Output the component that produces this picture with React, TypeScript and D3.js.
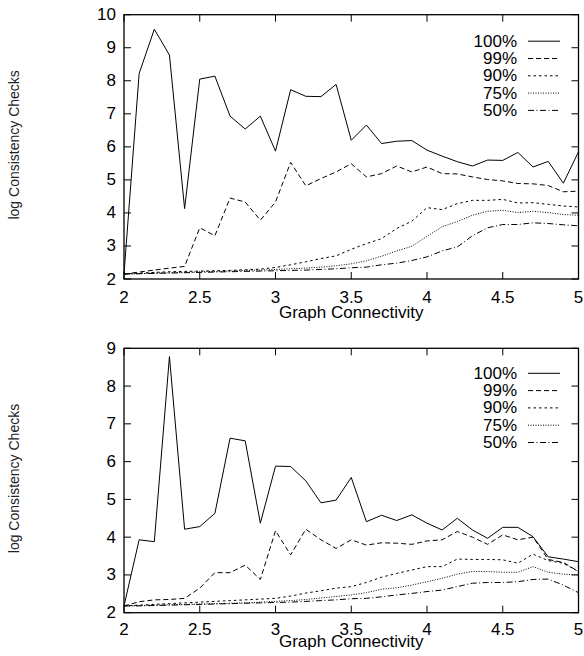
import React from "react";
import * as d3 from "d3";

// x grid (graph connectivity)
const connectivity = [
  2.0, 2.1, 2.2, 2.3, 2.4, 2.5, 2.6, 2.7, 2.8, 2.9, 3.0, 3.1, 3.2, 3.3, 3.4,
  3.5, 3.6, 3.7, 3.8, 3.9, 4.0, 4.1, 4.2, 4.3, 4.4, 4.5, 4.6, 4.7, 4.8, 4.9, 5.0,
];

const seriesNames = ["100%", "99%", "90%", "75%", "50%"];
const xTicks = [2, 2.5, 3, 3.5, 4, 4.5, 5];

// top panel
const top100 = [2.15, 8.22, 9.56, 8.78, 4.13, 8.05, 8.14, 6.93, 6.54, 6.93, 5.87, 7.73, 7.53, 7.52, 7.89, 6.2, 6.66, 6.1, 6.17, 6.19, 5.9, 5.72, 5.55, 5.42, 5.6, 5.59, 5.83, 5.39, 5.56, 4.9, 5.85];
const top99 = [2.15, 2.21, 2.27, 2.33, 2.38, 3.55, 3.31, 4.45, 4.33, 3.78, 4.33, 5.53, 4.82, 5.04, 5.24, 5.49, 5.09, 5.19, 5.42, 5.24, 5.39, 5.19, 5.18, 5.09, 5.01, 4.97, 4.89, 4.88, 4.83, 4.64, 4.66];
const top90 = [2.15, 2.18, 2.2, 2.22, 2.23, 2.24, 2.25, 2.26, 2.28, 2.3, 2.35, 2.43, 2.52, 2.62, 2.7, 2.9, 3.07, 3.22, 3.53, 3.75, 4.16, 4.1, 4.28, 4.38, 4.38, 4.41, 4.3, 4.31, 4.26, 4.21, 4.18];
const top75 = [2.15, 2.16, 2.18, 2.19, 2.2, 2.22, 2.23, 2.24, 2.26, 2.27, 2.29, 2.31, 2.33, 2.36, 2.4, 2.46, 2.55, 2.69, 2.85, 2.99, 3.29, 3.58, 3.74, 3.93, 4.05, 4.08, 4.01, 4.05, 4.01, 3.95, 3.93];
const top50 = [2.15, 2.16, 2.17, 2.18, 2.19, 2.2, 2.21, 2.22, 2.23, 2.24, 2.25, 2.26, 2.27, 2.29, 2.31, 2.34, 2.36, 2.43, 2.48, 2.56, 2.67, 2.85, 2.97, 3.31, 3.55, 3.65, 3.65, 3.7, 3.68, 3.64, 3.61];
const topYTicks = [2, 3, 4, 5, 6, 7, 8, 9, 10];

// bottom panel
const bot100 = [2.18, 3.93, 3.88, 8.78, 4.21, 4.28, 4.63, 6.62, 6.55, 4.37, 5.88, 5.87, 5.49, 4.91, 4.98, 5.58, 4.41, 4.58, 4.44, 4.59, 4.37, 4.19, 4.5, 4.19, 3.97, 4.26, 4.26, 4.01, 3.48, 3.42, 3.35];
const bot99 = [2.18, 2.29, 2.34, 2.35, 2.38, 2.65, 3.06, 3.06, 3.26, 2.88, 4.17, 3.53, 4.21, 3.93, 3.7, 3.93, 3.79, 3.85, 3.84, 3.81, 3.9, 3.93, 4.15, 4.0, 3.81, 4.06, 3.93, 4.0, 3.41, 3.33, 3.09];
const bot90 = [2.18, 2.2, 2.22, 2.24, 2.26, 2.28, 2.3, 2.32, 2.34, 2.36, 2.38, 2.44, 2.52, 2.58, 2.65, 2.69, 2.8, 2.94, 3.04, 3.13, 3.22, 3.22, 3.42, 3.41, 3.41, 3.4, 3.31, 3.55, 3.38, 3.31, 3.09];
const bot75 = [2.18, 2.19, 2.2, 2.21, 2.22, 2.23, 2.24, 2.25, 2.26, 2.28, 2.3, 2.32, 2.35, 2.39, 2.43, 2.47, 2.53, 2.62, 2.66, 2.73, 2.82, 2.91, 3.02, 3.09, 3.09, 3.07, 3.07, 3.22, 3.07, 3.02, 3.0];
const bot50 = [2.18, 2.18, 2.19, 2.2, 2.21, 2.22, 2.23, 2.24, 2.25, 2.26, 2.27, 2.28, 2.3, 2.32, 2.34, 2.37, 2.38, 2.42, 2.47, 2.51, 2.56, 2.6, 2.69, 2.78, 2.8, 2.8, 2.82, 2.88, 2.89, 2.73, 2.53];
const botYTicks = [2, 3, 4, 5, 6, 7, 8, 9];

const dashes = ["none", "5,3", "2.5,3", "1,1.5", "6,2.5,1,2.5"];
const font = "'Liberation Sans', Arial, Helvetica, sans-serif";
const FS = 17;

const W = 584;
const H = 656;
const left = 124;
const right = 578.5;

type PanelProps = {
  top: number;
  bottom: number;
  yMax: number;
  yTicks: number[];
  series: number[][];
  tickBase: number;
  titleBase: number;
  legendTop: number;
};

const Panel = ({ top, bottom, yMax, yTicks, series, tickBase, titleBase, legendTop }: PanelProps) => {
  const x = d3.scaleLinear().domain([2, 5]).range([left, right]);
  const y = d3.scaleLinear().domain([2, yMax]).range([bottom, top]);
  const tick = 7;

  const line = d3
    .line<number>()
    .x((_, i) => x(connectivity[i]))
    .y((d) => y(d));

  const rowH = 17.3;
  const lx0 = 528;
  const lx1 = 560;

  return (
    <g>
      {series.map((s, i) => (
        <path
          key={i}
          d={line(s) || ""}
          fill="none"
          stroke="#000"
          strokeWidth={1}
          strokeDasharray={dashes[i]}
        />
      ))}

      {/* ticks on all four sides */}
      {xTicks.map((t) => (
        <g key={"x" + t}>
          <line x1={x(t)} x2={x(t)} y1={bottom} y2={bottom - tick} stroke="#000" />
          <line x1={x(t)} x2={x(t)} y1={top} y2={top + tick} stroke="#000" />
          <text x={x(t)} y={bottom + tickBase} textAnchor="middle" fontSize={FS} fontFamily={font}>
            {t}
          </text>
        </g>
      ))}
      {yTicks.map((t) => (
        <g key={"y" + t}>
          <line x1={left} x2={left + tick} y1={y(t)} y2={y(t)} stroke="#000" />
          <line x1={right} x2={right - tick} y1={y(t)} y2={y(t)} stroke="#000" />
          <text
            x={left - 8}
            y={y(t)}
            textAnchor="end"
            dominantBaseline="central"
            fontSize={FS}
            fontFamily={font}
          >
            {t}
          </text>
        </g>
      ))}

      <rect
        x={left}
        y={top}
        width={right - left}
        height={bottom - top}
        fill="none"
        stroke="#000"
        strokeWidth={1.3}
      />

      {/* key */}
      {seriesNames.map((n, i) => {
        const ly = top + legendTop + i * rowH;
        return (
          <g key={n}>
            <text
              x={517}
              y={ly}
              textAnchor="end"
              dominantBaseline="central"
              fontSize={FS}
              fontFamily={font}
            >
              {n}
            </text>
            <line x1={lx0} x2={lx1} y1={ly} y2={ly} stroke="#000" strokeDasharray={dashes[i]} />
          </g>
        );
      })}

      <text
        x={(left + right) / 2}
        y={bottom + titleBase}
        textAnchor="middle"
        fontSize={FS}
        fontFamily={font}
      >
        Graph Connectivity
      </text>
      <text
        transform={`translate(14,${(top + bottom) / 2 - 2}) rotate(-90)`}
        textAnchor="middle"
        dominantBaseline="central"
        fontSize={14}
        fontFamily={font}
        fill="#222"
      >
        log Consistency Checks
      </text>
    </g>
  );
};

export default function App() {
  return (
    <div style={{ position: "fixed", left: 0, top: 0, background: "#fff" }}>
      <svg width={W} height={H} style={{ display: "block" }}>
        <rect width={W} height={H} fill="#fff" />
        <Panel
          top={14.7}
          bottom={279}
          yMax={10}
          yTicks={topYTicks}
          series={[top100, top99, top90, top75, top50]}
          tickBase={24}
          titleBase={38.5}
          legendTop={26.5}
        />
        <Panel
          top={348.3}
          bottom={612.7}
          yMax={9}
          yTicks={botYTicks}
          series={[bot100, bot99, bot90, bot75, bot50]}
          tickBase={22}
          titleBase={34}
          legendTop={25}
        />
      </svg>
    </div>
  );
}
